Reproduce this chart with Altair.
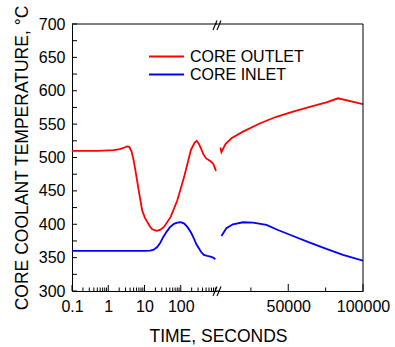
import altair as alt
import pandas as pd

series = ["CORE OUTLET", "CORE INLET"]
colors = ["#ff0000", "#0000ff"]

# Early transient (log time axis, seconds)
outlet_early_t = [0.1, 0.5, 1.4, 2.1, 2.8, 3.3, 3.8, 4.4, 5.0, 5.6, 6.9, 8.6, 10.2, 11.8, 14, 16.3, 21.5, 27, 34.5, 52.7, 80.6, 124, 190, 240, 277, 320, 359, 420, 494, 600, 679, 800, 935]
outlet_early_v = [510, 510, 511, 512.7, 515, 516.5, 516, 509, 496, 481, 451, 421, 410, 404, 397, 392.5, 390, 391.5, 396, 411, 436, 471, 511, 522, 525, 520, 514, 505, 499, 496, 494, 490, 480]
inlet_early_t = [0.1, 1, 10, 14.3, 18, 22, 27, 33, 41, 51, 65, 80, 100, 125, 152, 190, 230, 270, 316, 370, 435, 540, 660, 780, 900]
inlet_early_v = [360, 360, 360, 360.5, 362, 365.5, 372, 381, 389, 396, 400.5, 402.3, 403, 401, 396, 388, 379, 370, 364, 358, 354, 352.5, 351.5, 350, 347.5]

# Late transient (linear time axis, seconds)
outlet_late_t = [4600, 5300, 8000, 12000, 19700, 30900, 42000, 53200, 64400, 75500, 83300, 100000]
outlet_late_v = [515, 508, 520, 528.7, 538.7, 551, 561, 568.6, 576, 582.7, 588.7, 580]
inlet_late_t = [5300, 8600, 13000, 19700, 26400, 35400, 43100, 53200, 64400, 75500, 86600, 100000]
inlet_late_v = [382.4, 394, 400, 403, 402.4, 399, 391.4, 382.4, 372.4, 363, 354, 345.4]

# Axis ticks
y_tick_values = [300, 325, 350, 375, 400, 425, 450, 475, 500, 525, 550, 575, 600, 625, 650, 675, 700]
y_label_values = [300, 350, 400, 450, 500, 550, 600, 650, 700]
log_major = [0.1, 1, 10, 100]
log_minor = [0.2, 0.3, 0.4, 0.5, 0.6, 0.7, 0.8, 0.9,
             2, 3, 4, 5, 6, 7, 8, 9,
             20, 30, 40, 50, 60, 70, 80, 90,
             200, 300, 400, 500, 600, 700, 800, 900]
lin_major = [50000, 100000]
lin_minor = [25000, 75000]

W_L, W_R, H = 145, 145, 267
FONT = "Liberation Sans"
LW = 1.8

df_early = pd.concat([
    pd.DataFrame({"t": outlet_early_t, "v": outlet_early_v, "series": series[0]}),
    pd.DataFrame({"t": inlet_early_t, "v": inlet_early_v, "series": series[1]}),
])
df_late = pd.concat([
    pd.DataFrame({"t": outlet_late_t, "v": outlet_late_v, "series": series[0]}),
    pd.DataFrame({"t": inlet_late_t, "v": inlet_late_v, "series": series[1]}),
])

ys = alt.Scale(domain=[300, 700], nice=False, zero=False)
xl = alt.Scale(type="log", domain=[0.1, 1000], nice=False)
xr = alt.Scale(domain=[3000, 100000], nice=False, zero=False)
cs = alt.Scale(domain=series, range=colors)

legend = alt.Legend(
    title=None, orient="none", legendX=76, legendY=23.5,
    symbolType="stroke", symbolSize=1225, symbolStrokeWidth=LW,
    labelFont=FONT, labelFontSize=16, labelColor="black",
    labelOffset=5, padding=0, rowPadding=0, clipHeight=18,
)

y_axis = alt.Axis(
    title="CORE COOLANT TEMPERATURE, \u00b0C", values=y_label_values, format="d",
    ticks=False, labelPadding=7, titlePadding=7, domainColor="black",
    labelFont=FONT, labelFontSize=16, labelColor="black",
    titleFont=FONT, titleFontSize=17.5, titleFontWeight="normal", titleColor="black",
    grid=False,
)
xl_axis = alt.Axis(
    title="TIME, SECONDS", values=log_major, format="~g", ticks=False,
    labelPadding=7, labelFont=FONT, labelFontSize=16, labelColor="black",
    labelFlush=False, labelOverlap=False, domainColor="black",
    titleFont=FONT, titleFontSize=17.5, titleFontWeight="normal", titleColor="black",
    titleX=146, titleAlign="center", titlePadding=13, grid=False,
)
xr_axis = alt.Axis(
    title=None, values=lin_major, format="d", ticks=False,
    labelPadding=7, labelFont=FONT, labelFontSize=16, labelColor="black",
    labelFlush=False, labelOverlap=False, domainColor="black", grid=False,
)

# ---- left (log) panel ----
left_lines = alt.Chart(df_early).mark_line(strokeWidth=LW, clip=True).encode(
    x=alt.X("t:Q", scale=xl, axis=xl_axis),
    y=alt.Y("v:Q", scale=ys, axis=y_axis),
    color=alt.Color("series:N", scale=cs, legend=legend, sort=series),
    order=alt.Order("t:Q"),
)
y_ticks = alt.Chart(pd.DataFrame({"v": y_tick_values})).mark_rule(color="black", strokeWidth=1).encode(
    y=alt.Y("v:Q", scale=ys, axis=y_axis), x=alt.value(0), x2=alt.value(5)
)
xl_major = alt.Chart(pd.DataFrame({"t": log_major})).mark_rule(color="black").encode(
    x=alt.X("t:Q", scale=xl, axis=xl_axis), y=alt.value(H), y2=alt.value(H - 6)
)
xl_minor = alt.Chart(pd.DataFrame({"t": log_minor})).mark_rule(color="black").encode(
    x=alt.X("t:Q", scale=xl, axis=xl_axis), y=alt.value(H), y2=alt.value(H - 3.5)
)
left_top = alt.Chart().mark_rule(color="black").encode(
    x=alt.value(0), x2=alt.value(W_L), y=alt.value(0)
)
left = alt.layer(left_lines, y_ticks, xl_major, xl_minor, left_top).properties(width=W_L, height=H)

# ---- right (linear) panel ----
right_lines = alt.Chart(df_late).mark_line(strokeWidth=LW, clip=True).encode(
    x=alt.X("t:Q", scale=xr, axis=xr_axis),
    y=alt.Y("v:Q", scale=ys, axis=None),
    color=alt.Color("series:N", scale=cs, legend=None, sort=series),
    order=alt.Order("t:Q"),
)
xr_major = alt.Chart(pd.DataFrame({"t": lin_major})).mark_rule(color="black").encode(
    x=alt.X("t:Q", scale=xr, axis=xr_axis), y=alt.value(H), y2=alt.value(H - 7)
)
xr_minor = alt.Chart(pd.DataFrame({"t": lin_minor})).mark_rule(color="black").encode(
    x=alt.X("t:Q", scale=xr, axis=xr_axis), y=alt.value(H), y2=alt.value(H - 3.5)
)
right_top = alt.Chart().mark_rule(color="black").encode(
    x=alt.value(-2), x2=alt.value(W_R), y=alt.value(0)
)
right_edge = alt.Chart().mark_rule(color="black").encode(
    x=alt.value(W_R), y=alt.value(0), y2=alt.value(H)
)
bottom_gap = alt.Chart().mark_rule(color="black").encode(
    x=alt.value(-2), x2=alt.value(1), y=alt.value(H)
)
# axis-break marks "//"
breaks = []
for (xa, xb) in [(-5, -1), (-1, 3)]:
    breaks.append(alt.Chart().mark_rule(color="black", strokeWidth=1.1).encode(
        x=alt.value(xa), x2=alt.value(xb), y=alt.value(6), y2=alt.value(-3.5)))
    breaks.append(alt.Chart().mark_rule(color="black", strokeWidth=1.1).encode(
        x=alt.value(xa), x2=alt.value(xb), y=alt.value(H + 5), y2=alt.value(H - 4.5)))
right = alt.layer(right_lines, xr_major, xr_minor, right_top, right_edge, bottom_gap, *breaks).properties(width=W_R, height=H)

chart = alt.hconcat(left, right, spacing=1, bounds="flush").resolve_scale(
    color="shared"
).properties(
    padding={"left": 13, "top": 4, "right": 5, "bottom": 0},
    background="white",
).configure_view(stroke=None)

chart.save("out.html", embed_options={"renderer": "svg", "actions": False})
